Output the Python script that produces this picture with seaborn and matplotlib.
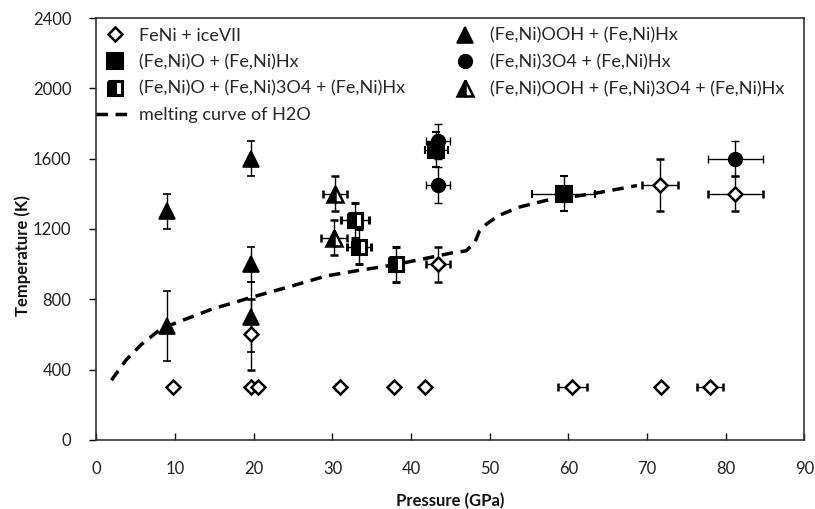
import matplotlib
matplotlib.use('Agg')
import matplotlib.pyplot as plt
from matplotlib.lines import Line2D
import seaborn as sns

sns.set_theme(style='white')
plt.rcParams['font.family'] = ['Lato', 'DejaVu Sans']

# FeNi + iceVII (open diamonds)
dia_p = [9.7, 19.6, 20.5, 30.9, 37.8, 41.8, 60.5, 71.7, 78.0, 19.6, 43.4, 71.6, 81.2]
dia_T = [300, 300, 300, 300, 300, 300, 300, 300, 300, 600, 1000, 1450, 1400]
dia_xerr = [0, 0, 0, 0.4, 0, 0, 1.8, 0, 1.7, 0, 1.5, 2.3, 3.5]
dia_yerr = [0, 0, 0, 0, 0, 0, 0, 0, 0, 200, 100, 150, 100]

# (Fe,Ni)O + (Fe,Ni)Hx (filled squares)
sq_p = [43.2, 59.4]
sq_T = [1650, 1400]
sq_xerr = [1.5, 4.0]
sq_yerr = [100, 100]

# (Fe,Ni)O + (Fe,Ni)3O4 + (Fe,Ni)Hx (half-filled squares)
hsq_p = [32.9, 33.35, 38.1]
hsq_T = [1250, 1100, 1000]
hsq_xerr = [1.8, 1.5, 0]
hsq_yerr = [100, 100, 100]

# (Fe,Ni)OOH + (Fe,Ni)Hx (filled triangles)
tri_p = [9.0, 9.0, 19.6, 19.6, 19.6]
tri_T = [1300, 650, 1600, 1000, 700]
tri_yerr = [100, 200, 100, 100, 200]

# (Fe,Ni)3O4 + (Fe,Ni)Hx (filled circles)
cir_p = [43.4, 43.4, 81.2]
cir_T = [1700, 1450, 1600]
cir_xerr = [1.5, 1.5, 3.5]
cir_yerr = [100, 100, 100]

# (Fe,Ni)OOH + (Fe,Ni)3O4 + (Fe,Ni)Hx (half-filled triangles)
htri_p = [30.35, 30.2]
htri_T = [1400, 1150]
htri_xerr = [1.5, 1.6]
htri_yerr = [100, 100]

# melting curve of H2O
melt_p = [1.9, 3.8, 5.7, 8.1, 9.8, 14.6, 19.6, 25.0, 29.2, 33.0, 37.7, 41.0, 45.4,
          47.0, 48.1, 48.7, 49.6, 51.1, 53.7, 57.1, 63.0, 68.7]
melt_T = [340, 457, 543, 629, 661, 743, 810, 878, 933, 962, 995, 1025, 1066,
          1076, 1124, 1190, 1229, 1276, 1324, 1362, 1400, 1447]

labels = ['FeNi + iceVII', '(Fe,Ni)O + (Fe,Ni)Hx', '(Fe,Ni)O + (Fe,Ni)3O4 + (Fe,Ni)Hx',
          'melting curve of H2O', '(Fe,Ni)OOH + (Fe,Ni)Hx', '(Fe,Ni)3O4 + (Fe,Ni)Hx',
          '(Fe,Ni)OOH + (Fe,Ni)3O4 + (Fe,Ni)Hx']

fig = plt.figure(figsize=(8.15, 5.09), dpi=100)
ax = fig.add_axes([0.1184, 0.1356, 0.8687, 0.829])

dash = (0, (3.3, 2.2))
sns.lineplot(x=melt_p, y=melt_T, sort=False, estimator=None, color='black',
             lw=2.5, linestyle=dash, ax=ax, zorder=3)

eb = dict(ecolor='black', elinewidth=1, capsize=3, capthick=1, ls='none', zorder=4)
sty = {
    'dia': dict(marker='D', ms=7.6, mfc='white', mec='black', mew=1.8),
    'sq': dict(marker='s', ms=11, mfc='black', mec='black', mew=1.5),
    'hsq': dict(marker='s', ms=10.5, mfc='black', mfcalt='white', fillstyle='left',
                mec='black', mew=2.2),
    'tri': dict(marker='^', ms=11, mfc='black', mec='black', mew=1.2),
    'cir': dict(marker='o', ms=10, mfc='black', mec='black', mew=1),
    'htri': dict(marker='^', ms=11, mfc='black', mfcalt='white', fillstyle='left',
                 mec='black', mew=1.8),
}

ax.errorbar(dia_p, dia_T, xerr=dia_xerr, yerr=dia_yerr, **eb, **sty['dia'])
ax.errorbar(sq_p, sq_T, xerr=sq_xerr, yerr=sq_yerr, **eb, **sty['sq'])
ax.errorbar(hsq_p, hsq_T, xerr=hsq_xerr, yerr=hsq_yerr, **eb, **sty['hsq'])
ax.errorbar(tri_p, tri_T, yerr=tri_yerr, **eb, **sty['tri'])
ax.errorbar(cir_p, cir_T, xerr=cir_xerr, yerr=cir_yerr, **eb, **sty['cir'])
ax.errorbar(htri_p, htri_T, xerr=htri_xerr, yerr=htri_yerr, **eb, **sty['htri'])

ax.set_xlim(0, 90)
ax.set_ylim(0, 2400)
ax.set_xticks(range(0, 91, 10))
ax.set_yticks(range(0, 2401, 400))
ax.tick_params(axis='x', direction='in', length=5, width=1, pad=15, labelsize=12,
               bottom=True, colors='black')
ax.tick_params(axis='y', direction='out', length=5, width=1, pad=13, labelsize=12,
               left=True, colors='black')
for t in ax.get_xticklabels() + ax.get_yticklabels():
    t.set_color('#222222')
for s in ax.spines.values():
    s.set_color('#333333')
    s.set_linewidth(1.2)

ax.set_xlabel('Pressure (GPa)', fontsize=12, fontweight='bold', color='#111111')
ax.set_ylabel('Temperature (K)', fontsize=12, fontweight='bold', color='#111111')
ax.xaxis.set_label_coords(0.5, -0.125)
ax.yaxis.set_label_coords(-0.093, 0.438)

def handle(key):
    return Line2D([], [], ls='none', **sty[key])

melt_h = Line2D([], [], color='black', lw=2.5, linestyle=dash)
h_left = [handle('dia'), handle('sq'), handle('hsq'), melt_h]
h_right = [handle('tri'), handle('cir'), handle('htri')]

leg_kw = dict(frameon=False, loc='upper left', borderpad=0, borderaxespad=0,
              handlelength=2.0, handletextpad=0.35, labelspacing=0.58, fontsize=13)
leg1 = ax.legend(h_left, labels[:4], bbox_to_anchor=(0.0, 0.977), **leg_kw)
ax.add_artist(leg1)
ax.legend(h_right, labels[4:], bbox_to_anchor=(0.4955, 0.977), **leg_kw)

fig.savefig('out.png', dpi=100)
